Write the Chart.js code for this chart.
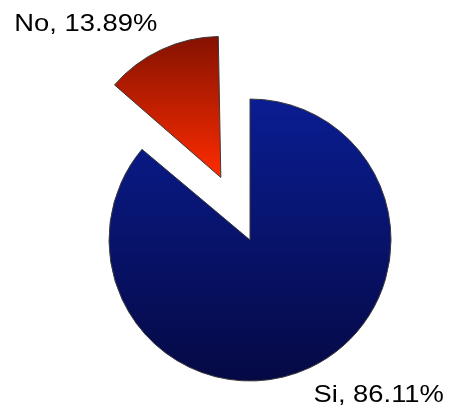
<!DOCTYPE html>
<html>
<head>
<meta charset="utf-8">
<script src="https://cdn.jsdelivr.net/npm/chart.js@4"></script>
<style>
  html, body { margin: 0; padding: 0; background: #ffffff; }
  #wrap { width: 449px; height: 413px; }
</style>
</head>
<body>
<div id="wrap"><canvas id="pieChart" width="449" height="413"></canvas></div>
<script>
const categories = ['Si', 'No'];
const values = [86.11, 13.89];
const labels = ['Si, 86.11%', 'No, 13.89%'];

const topColors = ['#0a1d92', '#841200'];
const bottomColors = ['#050944', '#ff2c00'];

document.addEventListener('DOMContentLoaded', function() {
    const pieRadius = 141;

    // vertical gradient over the slice's own box (red one is drawn translated)
    const sliceFill = (context) => {
        const chart = context.chart;
        const area = chart.chartArea;
        if (!area) return topColors[context.dataIndex];
        const cy = (area.top + area.bottom) / 2;
        const y0 = cy - pieRadius;
        const y1 = context.dataIndex === 0 ? cy + pieRadius : cy;
        const g = chart.ctx.createLinearGradient(0, y0, 0, y1);
        g.addColorStop(0, topColors[context.dataIndex]);
        g.addColorStop(1, bottomColors[context.dataIndex]);
        return g;
    };

    // chart.js grows an offset slice's radius; undo that so the exploded slice keeps the pie radius
    const keepRadius = {
        id: 'keepRadius',
        beforeDatasetDraw(chart, args) {
            args.meta.data.forEach(arc => {
                const shift = (arc.options.offset || 0) / 4;
                if (!shift) return;
                const fix = 1 - Math.sin(Math.min(Math.PI, arc.circumference || 0));
                if (arc._baseRadius === undefined) arc._baseRadius = arc.outerRadius;
                arc.outerRadius = arc._baseRadius - shift * fix;
            });
        }
    };

    const sliceLabels = {
        id: 'sliceLabels',
        afterDatasetsDraw(chart) {
            const ctx = chart.ctx;
            const meta = chart.getDatasetMeta(0);
            meta.data.forEach((arc, i) => {
                const p = arc.getProps(['x', 'y', 'startAngle', 'endAngle']);
                const mid = (p.startAngle + p.endAngle) / 2;
                const shift = (arc.options.offset || 0) / 4;
                const r = arc._baseRadius !== undefined ? arc._baseRadius : arc.outerRadius;
                const ox = p.x + Math.cos(mid) * (shift + r);
                const oy = p.y + Math.sin(mid) * (shift + r);
                ctx.save();
                ctx.font = '24px "Liberation Sans", Arial, sans-serif';
                ctx.fillStyle = '#000000';
                ctx.textBaseline = 'alphabetic';
                const sx = 1.14;
                const w = ctx.measureText(labels[i]).width * sx;
                const left = Math.cos(mid) < 0 ? ox - 4 - w : ox + 4;
                const base = Math.sin(mid) < 0 ? oy - 19 : oy + 34;
                ctx.translate(left, base);
                ctx.scale(sx, 1);
                ctx.textAlign = 'left';
                ctx.fillText(labels[i], 0, 0);
                ctx.restore();
            });
        }
    };

    new Chart(document.getElementById('pieChart').getContext('2d'), {
        type: 'pie',
        data: {
            labels: categories,
            datasets: [{
                data: values,
                backgroundColor: sliceFill,
                borderColor: '#3a3a3a',
                borderWidth: 1,
                offset: [0, 276]
            }]
        },
        options: {
            responsive: false,
            animation: false,
            radius: pieRadius,
            layout: { padding: { left: 100, right: 49, top: 90, bottom: 23 } },
            plugins: {
                legend: { display: false },
                tooltip: { enabled: false }
            }
        },
        plugins: [keepRadius, sliceLabels]
    });
});
</script>
</body>
</html>
